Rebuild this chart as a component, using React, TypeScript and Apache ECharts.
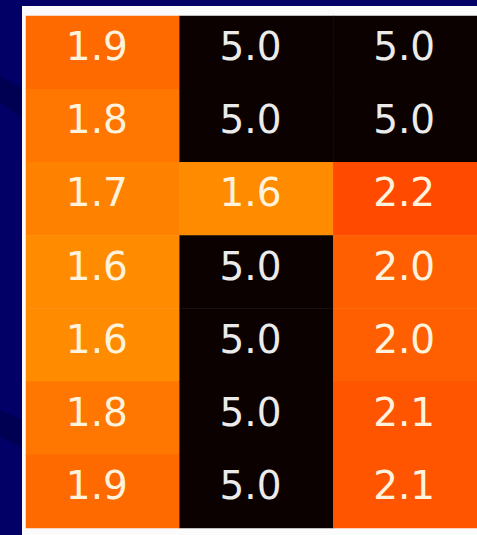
import React, { useEffect, useRef } from "react";
import * as echarts from "echarts";

const columns = ["A", "B", "C"];
const rows = ["r1", "r2", "r3", "r4", "r5", "r6", "r7"];
const colA = [1.9, 1.8, 1.7, 1.6, 1.6, 1.8, 1.9];
const colB = [5.0, 5.0, 1.6, 5.0, 5.0, 5.0, 5.0];
const colC = [5.0, 5.0, 2.2, 2.0, 2.0, 2.1, 2.1];
const allCols = [colA, colB, colC];
const levelValues = [1.6, 1.7, 1.8, 1.9, 2.0, 2.1, 2.2, 5.0];
const levelColors = ["#ff8c00", "#ff8100", "#ff7600", "#ff6a00", "#ff5f00", "#ff5400", "#ff4a00", "#0a0100"];

export default function App() {
  const ref = useRef<HTMLDivElement>(null);
  useEffect(() => {
    if (!ref.current) return;
    const chart = echarts.init(ref.current, null, { renderer: "svg" });
    const data: any[] = [];
    allCols.forEach((col, ci) =>
      col.forEach((v, ri) =>
        data.push({
          value: [ci, ri, v],
          label: { color: v >= 4 ? "#ebebeb" : "#fff3de" },
        })
      )
    );
    chart.setOption({
      animation: false,
      backgroundColor: "#020066",
      graphic: [
        {
          type: "polygon",
          z: 0,
          shape: { points: [[0, 76], [22, 88], [22, 118], [0, 102]] },
          style: { fill: "#000052" },
        },
        {
          type: "polygon",
          z: 0,
          shape: { points: [[0, 410], [22, 420], [22, 448], [0, 436]] },
          style: { fill: "#000052" },
        },
        {
          type: "rect",
          z: 0,
          shape: { x: 22, y: 6, width: 480, height: 540 },
          style: { fill: "#fbfbfb" },
        },
      ],
      grid: { left: 26, top: 16, width: 461, height: 512 },
      xAxis: { type: "category", data: columns, show: false },
      yAxis: { type: "category", data: rows, inverse: true, show: false },
      visualMap: {
        show: false,
        type: "piecewise",
        dimension: 2,
        pieces: levelValues.map((v, i) => ({
          min: v - 0.05,
          max: v + 0.05,
          color: levelColors[i],
        })),
      },
      series: [
        {
          type: "heatmap",
          z: 2,
          data,
          itemStyle: { borderWidth: 0 },
          label: {
            show: true,
            formatter: (p: any) => Number(p.value[2]).toFixed(1),
            fontFamily: "DejaVu Sans",
            fontSize: 39,
            offset: [-6, -6],
          },
          emphasis: { disabled: true },
        },
      ],
    });
    return () => chart.dispose();
  }, []);
  return (
    <div
      style={{
        position: "absolute",
        left: 0,
        top: 0,
        width: 477,
        height: 535,
        overflow: "hidden",
      }}
    >
      <div ref={ref} style={{ width: 500, height: 535 }} />
    </div>
  );
}
